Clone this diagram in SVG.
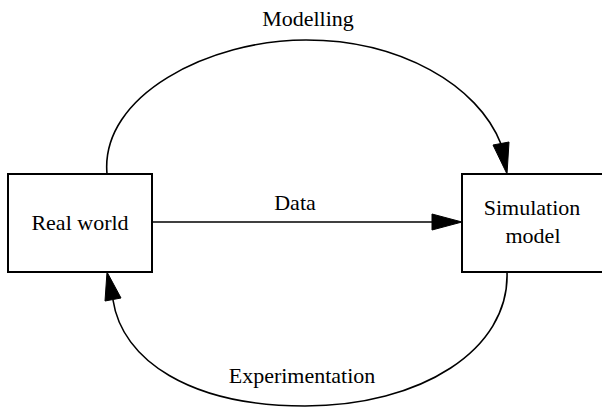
<svg xmlns="http://www.w3.org/2000/svg" width="602" height="408" viewBox="0 0 602 408">
<style>
.box{fill:#fff;stroke:#000;stroke-width:2}
.edge{fill:none;stroke:#000;stroke-width:1.6}
.head{fill:#000;stroke:#000;stroke-width:1}
.lbl{font-family:'Liberation Serif','Times New Roman','DejaVu Serif',serif;font-size:22px;fill:#000;text-anchor:middle}
</style>
<rect width="602" height="408" fill="#fff"/>
<g id="connectors">
<g id="modelling">
<path class="edge" d="M107,174 C100,95 210,40 306,40 C400,40 478,85 501,144"/>
<polygon class="head" points="493,145 509,142 507,174"/>
<text class="lbl" x="308" y="26" font-family="Liberation Serif, serif">Modelling</text>
</g>
<g id="data">
<path class="edge" d="M152,222 L433,222"/>
<polygon class="head" points="432,214 432,230 462,222"/>
<text class="lbl" x="295" y="210" font-family="Liberation Serif, serif">Data</text>
</g>
<g id="experimentation">
<path class="edge" d="M507,272 C510,350 420,406 305,406 C190,406 122,360 113,300"/>
<polygon class="head" points="105,301 121,298 107,272"/>
<text class="lbl" x="302" y="383" font-family="Liberation Serif, serif">Experimentation</text>
</g>
</g>
<g id="real-world">
<rect class="box" x="8" y="174" width="144" height="98"/>
<text class="lbl" x="80" y="230" font-family="Liberation Serif, serif">Real world</text>
</g>
<g id="simulation-model">
<rect class="box" x="462" y="174" width="146" height="98"/>
<text class="lbl" x="532" y="215" font-family="Liberation Serif, serif">Simulation</text>
<text class="lbl" x="533" y="243" font-family="Liberation Serif, serif">model</text>
</g>
</svg>
